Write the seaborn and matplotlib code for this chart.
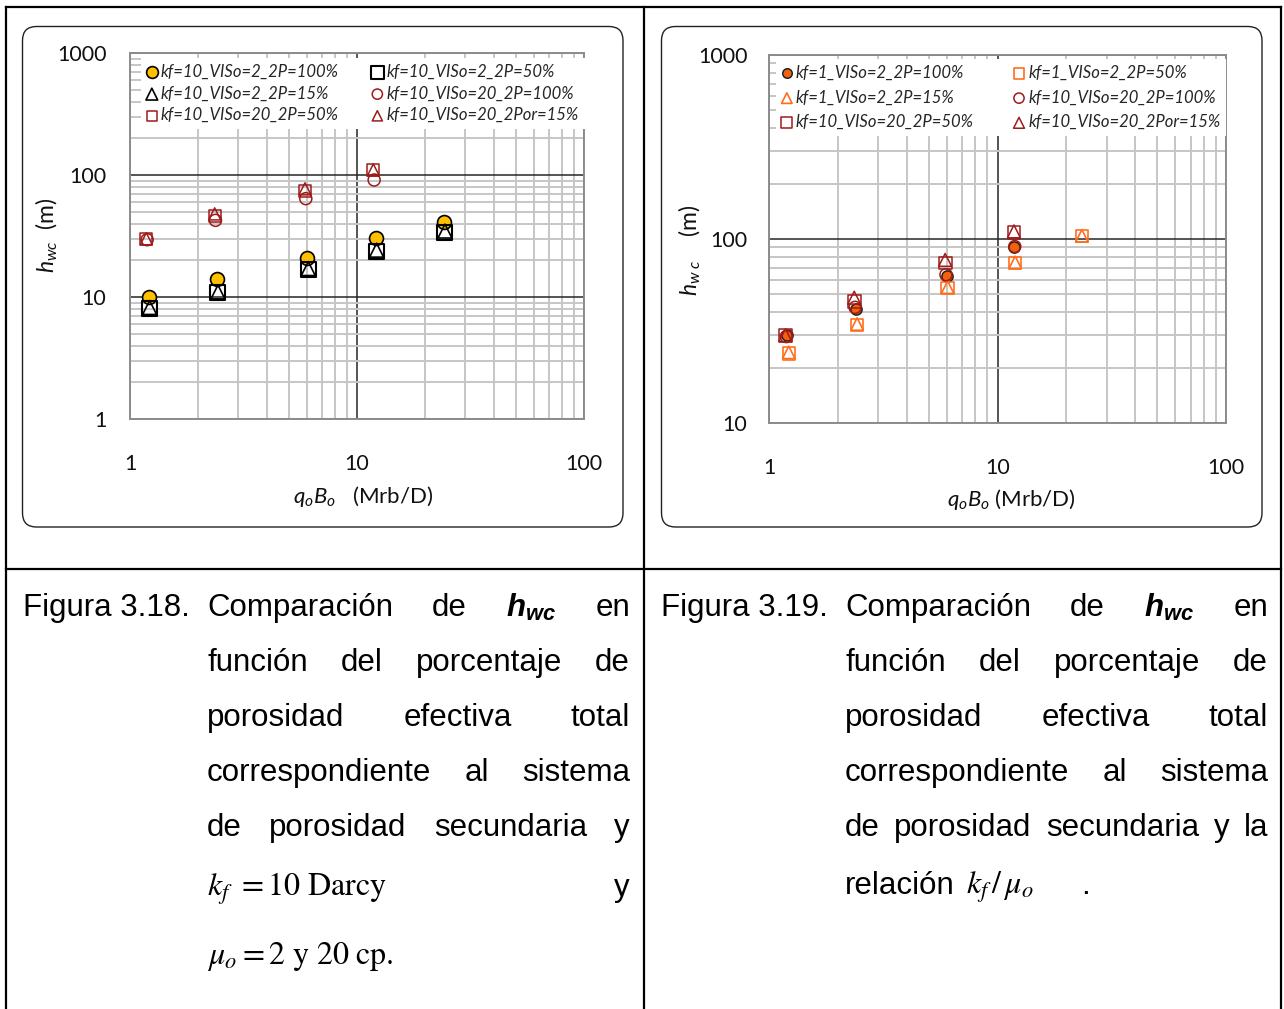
import seaborn as sns
import matplotlib.pyplot as plt
import numpy as np
import pandas as pd
from matplotlib.patches import FancyBboxPatch
from matplotlib.ticker import LogLocator, NullFormatter

W, H = 1284, 1009

# q_o*B_o (Mrb/D) per series
qb_v2_p100 = [1.21, 2.42, 6.05, 12.1, 24.2]
qb_v2 = [1.22, 2.44, 6.1, 12.2, 24.4]
qb_v20_p100 = [1.19, 2.38, 5.95, 11.9]
qb_v20 = [1.18, 2.36, 5.9, 11.8]
qb_kf1_p100 = [1.2, 2.4, 6.0, 11.8]
qb_kf1 = [1.22, 2.43, 6.05, 11.95, 23.4]

# h_wc (m) -- Figura 3.18
h_kf10_v2_p100 = [10.0, 14.1, 20.9, 30.3, 41.5]
h_kf10_v2_p50 = [8.0, 10.8, 16.8, 23.8, 33.7]
h_kf10_v2_p15 = [8.2, 11.0, 17.1, 24.2, 34.7]
h_kf10_v20_p100 = [29.5, 42.5, 64.0, 91.0]
h_kf10_v20_p50 = [29.8, 45.8, 74.0, 109.0]
h_kf10_v20_p15 = [30.0, 48.0, 77.0, 110.0]

# h_wc (m) -- Figura 3.19
h_kf1_v2_p100 = [30.2, 41.8, 63.0, 90.0]
h_kf1_v2_p50 = [23.9, 34.2, 54.0, 74.1, 103.7]
h_kf1_v2_p15 = [24.2, 34.5, 54.7, 74.6, 104.0]

lab_left = ["kf=10_VISo=2_2P=100%", "kf=10_VISo=2_2P=50%", "kf=10_VISo=2_2P=15%",
            "kf=10_VISo=20_2P=100%", "kf=10_VISo=20_2P=50%", "kf=10_VISo=20_2Por=15%"]
lab_right = ["kf=1_VISo=2_2P=100%", "kf=1_VISo=2_2P=50%", "kf=1_VISo=2_2P=15%",
             "kf=10_VISo=20_2P=100%", "kf=10_VISo=20_2P=50%", "kf=10_VISo=20_2Por=15%"]

GOLD = "#FFC000"
DRED = "#9E1B1B"
ORNG = "#FF6E1E"
ORFILL = "#F2620A"

sns.set_theme(style="whitegrid")
plt.rcParams['font.family'] = ['Lato', 'DejaVu Sans']
plt.rcParams['mathtext.fontset'] = 'custom'
plt.rcParams['mathtext.rm'] = 'Lato'
plt.rcParams['mathtext.it'] = 'Lato:italic'
plt.rcParams['mathtext.bf'] = 'Liberation Sans:italic:bold'

fig = plt.figure(figsize=(W / 100, H / 100), dpi=100)
bg = fig.add_axes([0, 0, 1, 1])
bg.set_xlim(0, W)
bg.set_ylim(H, 0)
bg.axis('off')

# table lines
lw_tab = 1.6
for xs, ys in [([6, 1281], [7, 7]), ([6, 6], [7, H]), ([1281, 1281], [7, H]),
               ([644, 644], [7, H]), ([6, 1281], [569, 569])]:
    bg.plot(xs, ys, color='black', lw=lw_tab, solid_capstyle='projecting')

# rounded chart boxes
for x0 in (22.5, 661.5):
    bg.add_patch(FancyBboxPatch((x0, 26.5), 600.5, 500.5,
                                boxstyle='round,pad=0,rounding_size=14',
                                fc='none', ec='#222222', lw=1.0))


def px_axes(x0, y0, x1, y1):
    return fig.add_axes([x0 / W, 1 - y1 / H, (x1 - x0) / W, (y1 - y0) / H])


def pts(x, y, ax, marker, s, fc, ec, lw, label):
    sns.scatterplot(x=x, y=y, ax=ax, marker=marker, s=s, color=ec,
                    facecolor=fc, edgecolor=ec, linewidth=lw, label=label,
                    legend=False, zorder=3)
    return ax.collections[-1]


def style_axes(ax, ymin, xpad, ypad):
    ax.set_xscale('log')
    ax.set_yscale('log')
    ax.set_xlim(1, 100)
    ax.set_ylim(ymin, 1000)
    xt = [1, 10, 100]
    yt = [v for v in [1, 10, 100, 1000] if v >= ymin]
    ax.set_xticks(xt, labels=[str(v) for v in xt])
    ax.set_yticks(yt, labels=[str(v) for v in yt])
    for axis in (ax.xaxis, ax.yaxis):
        axis.set_minor_locator(LogLocator(base=10, subs=np.arange(2, 10)))
        axis.set_minor_formatter(NullFormatter())
    ax.grid(which='minor', color='#C6C6C6', lw=1.4)
    ax.grid(which='major', color='#262626', lw=1.1)
    for sp in ax.spines.values():
        sp.set_visible(True)
        sp.set_color('#8C8C8C')
        sp.set_linewidth(1.4)
        sp.set_zorder(2.6)
    ax.tick_params(which='major', direction='out', length=5.5, width=1.1,
                   color='#8C8C8C', labelsize=15.5, labelcolor='#111111')
    ax.tick_params(axis='x', which='major', pad=xpad, top=False)
    ax.tick_params(axis='y', which='major', pad=ypad, right=False)
    ax.tick_params(which='minor', length=0)
    ax.set_facecolor('white')


def make_legend(ax, handles, labels, anchor_px, ax_px, spacing, colsp):
    order = [0, 2, 4, 1, 3, 5]
    x0, y0, x1, y1 = ax_px
    ax_x = (anchor_px[0] - x0) / (x1 - x0)
    ax_y = (y1 - anchor_px[1]) / (y1 - y0)
    leg = ax.legend([handles[i] for i in order], [labels[i] for i in order],
                    ncol=2, loc='upper left', bbox_to_anchor=(ax_x, ax_y),
                    borderaxespad=0, borderpad=0.35, handlelength=0.6,
                    handletextpad=0.25, columnspacing=colsp,
                    labelspacing=spacing, markerscale=0.85, frameon=True,
                    fancybox=False, framealpha=1,
                    prop={'family': 'Lato', 'style': 'italic', 'size': 12})
    leg.get_frame().set_facecolor('white')
    leg.get_frame().set_edgecolor('none')
    leg.set_zorder(5)
    return leg


# ---------------- Figura 3.18 ----------------
L_PX = (130, 53, 584, 419)
axL = px_axes(*L_PX)
hL = [
    pts(qb_v2_p100, h_kf10_v2_p100, axL, 'o', 100, GOLD, 'black', 1.2, lab_left[0]),
    pts(qb_v2, h_kf10_v2_p50, axL, 's', 115, 'none', 'black', 1.5, lab_left[1]),
    pts(qb_v2, h_kf10_v2_p15, axL, '^', 100, 'none', 'black', 1.2, lab_left[2]),
    pts(qb_v20_p100, h_kf10_v20_p100, axL, 'o', 75, 'none', DRED, 1.1, lab_left[3]),
    pts(qb_v20, h_kf10_v20_p50, axL, 's', 75, 'none', DRED, 1.1, lab_left[4]),
    pts(qb_v20, h_kf10_v20_p15, axL, '^', 75, 'none', DRED, 1.1, lab_left[5]),
]
style_axes(axL, 1, 20, 11.5)
axL.set_xlabel(r'$q_oB_o$   (Mrb/D)', fontsize=16, va='center', color='#111111')
axL.set_ylabel(r'$h_{wc}$  (m)', fontsize=16.5, va='center', color='#111111')
axL.xaxis.set_label_coords((363 - 130) / 454, (419 - 497) / 366)
axL.yaxis.set_label_coords((47 - 130) / 454, (419 - 235) / 366)
make_legend(axL, hL, lab_left, (141, 58), L_PX, 0.34, 2.0)

# ---------------- Figura 3.19 ----------------
R_PX = (769, 55, 1226, 423)
axR = px_axes(*R_PX)
hR = [
    pts(qb_kf1_p100, h_kf1_v2_p100, axR, 'o', 65, ORFILL, '#222222', 1.1, lab_right[0]),
    pts(qb_kf1, h_kf1_v2_p50, axR, 's', 80, 'none', ORNG, 1.2, lab_right[1]),
    pts(qb_kf1, h_kf1_v2_p15, axR, '^', 80, 'none', ORNG, 1.2, lab_right[2]),
    pts(qb_v20_p100, h_kf10_v20_p100, axR, 'o', 75, 'none', DRED, 1.1, lab_right[3]),
    pts(qb_v20, h_kf10_v20_p50, axR, 's', 85, 'none', DRED, 1.1, lab_right[4]),
    pts(qb_v20, h_kf10_v20_p15, axR, '^', 85, 'none', DRED, 1.1, lab_right[5]),
]
style_axes(axR, 10, 19.5, 10)
axR.set_xlabel(r'$q_oB_o$ (Mrb/D)', fontsize=16, va='center', color='#111111')
axR.set_ylabel(r'$h_{w\ c}$    (m)', fontsize=16.5, va='center', color='#111111')
axR.xaxis.set_label_coords((1011 - 769) / 457, (423 - 500) / 368)
axR.yaxis.set_label_coords((690 - 769) / 457, (423 - 250) / 368)
make_legend(axR, hR, lab_right, (776, 59), R_PX, 0.52, 2.4)

# ---------------- captions ----------------
renderer = fig.canvas.get_renderer()
ARIAL = dict(family='Liberation Sans', fontsize=22.5, color='black')
HWC = (r'$\mathbf{h}_{\mathbf{wc}}$', 'custom')


def put_tokens(tokens, x0, x1, y, justify=True):
    arts = []
    for tok, mf in tokens:
        if mf is None:
            t = bg.text(0, y, tok, va='baseline', ha='left', **ARIAL)
        elif mf == 'custom':
            t = bg.text(0, y, tok, va='baseline', ha='left', fontsize=22.5,
                        math_fontfamily='custom', color='black')
        else:
            t = bg.text(0, y, tok, va='baseline', ha='left', fontsize=23,
                        math_fontfamily=mf, color='black')
        arts.append(t)
    widths = [a.get_window_extent(renderer=renderer).width for a in arts]
    if justify and len(arts) > 1:
        gap = (x1 - x0 - sum(widths)) / (len(arts) - 1)
    else:
        gap = ARIAL['fontsize'] * 100 / 72 * 0.28
    x = x0
    for a, w in zip(arts, widths):
        a.set_x(x)
        x += w + gap


def w(s):
    return [(t, None) for t in s.split()]


def caption(num, x_num, x0, x1):
    base = [616, 671, 726, 781, 836]
    bg.text(x_num, base[0], num, va='baseline', ha='left', **ARIAL)
    lines = [w("Comparación de") + [HWC] + w("en"),
             w("función del porcentaje de"),
             w("porosidad efectiva total"),
             w("correspondiente al sistema")]
    for ln, y in zip(lines, base[:4]):
        put_tokens(ln, x0, x1, y)


caption("Figura 3.18.", 23, 207, 630)
put_tokens(w("de porosidad secundaria y"), 207, 630, 836)
put_tokens([(r'$k_f\ =10\ \mathrm{Darcy}$', 'stix'), ('y', None)], 207, 630, 896)
put_tokens([(r'$\mu_o=2\ \mathrm{y}\ 20\ \mathrm{cp}.$', 'stix')], 207, 630, 964,
           justify=False)

caption("Figura 3.19.", 661, 845, 1268)
put_tokens(w("de porosidad secundaria y la"), 845, 1268, 836)
bg.text(845, 894, "relación", va='baseline', ha='left', **ARIAL)
bg.text(966, 894, r'$k_f\,/\,\mu_o$', va='baseline', ha='left', fontsize=23,
        math_fontfamily='stix', color='black')
bg.text(1081, 894, ".", va='baseline', ha='left', **ARIAL)

fig.savefig("out.png", dpi=100)
